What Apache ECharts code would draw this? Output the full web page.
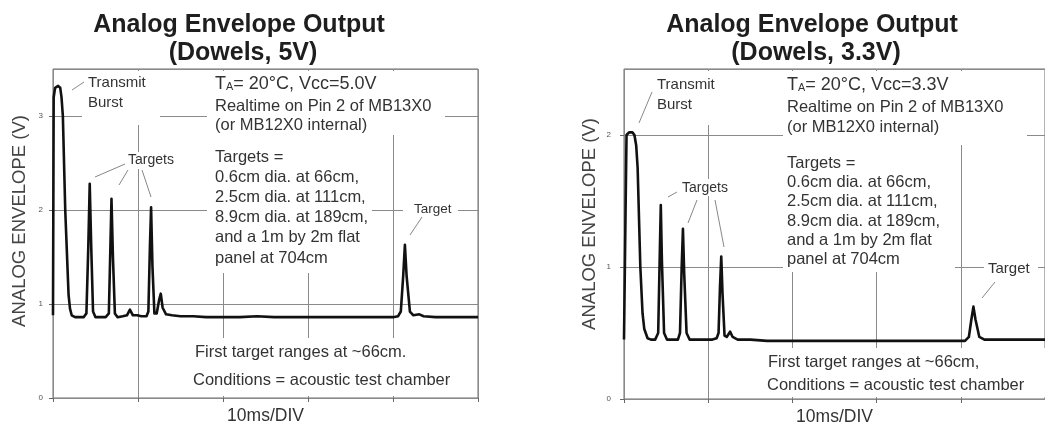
<!DOCTYPE html>
<html><head><meta charset="utf-8">
<script src="https://cdn.jsdelivr.net/npm/echarts@6/dist/echarts.min.js"></script>
<style>html,body{margin:0;padding:0;background:#fff}#c{width:1045px;height:432px}</style>
</head><body><div id="c"></div>
<script>
// ---- data (time in ms, envelope in volts), read from the scope captures ----
const timeMs5V = [0,0.08,0.25,0.6,0.85,1.0,1.16,1.44,1.83,2.0,2.2,2.6,3.0,3.6,3.93,4.15,4.32,4.5,4.71,5.0,5.6,6.2,6.57,6.75,6.88,7.05,7.28,7.6,8.2,8.7,9.05,9.4,9.9,10.4,11.0,11.22,11.4,11.54,11.7,11.93,12.2,12.5,12.68,12.9,13.3,14,15,16.5,18,20,22,24,26,28,30,32,34,36,38,40,40.6,40.92,41.2,41.4,41.6,41.99,42.4,43.1,43.6,45,47,50];
const envelope5V = [0.88,3.2,3.30,3.32,3.30,3.2,3.0,2.0,1.1,0.95,0.88,0.86,0.86,0.86,0.9,1.6,2.28,1.6,0.92,0.86,0.86,0.86,0.9,1.6,2.12,1.5,0.9,0.86,0.87,0.88,0.94,0.88,0.88,0.87,0.87,0.92,1.6,2.03,1.4,0.9,0.9,1.05,1.11,0.96,0.89,0.88,0.87,0.87,0.86,0.86,0.86,0.87,0.86,0.86,0.86,0.86,0.86,0.86,0.86,0.86,0.87,0.92,1.3,1.63,1.3,0.92,0.88,0.89,0.87,0.86,0.86,0.86];
const timeMs33V = [0,0.2,0.3,0.6,1.0,1.24,1.45,1.62,1.94,2.2,2.41,2.8,3.2,3.7,4.06,4.25,4.37,4.5,4.76,5.1,5.8,6.4,6.65,6.85,7.0,7.15,7.43,7.8,8.5,9.5,10.5,11.0,11.23,11.4,11.55,11.7,11.94,12.2,12.6,12.9,13.5,15,17,20,23,26,29,32,35,38,40.5,40.96,41.25,41.5,41.75,42.2,42.8,44,46,48,50];
const envelope33V = [0.45,1.5,2.0,2.02,2.02,2.0,1.92,1.75,1.0,0.65,0.53,0.46,0.45,0.45,0.5,1.1,1.47,1.05,0.5,0.45,0.45,0.45,0.5,1.0,1.29,0.95,0.5,0.45,0.45,0.45,0.45,0.46,0.5,0.85,1.08,0.8,0.48,0.47,0.51,0.47,0.45,0.45,0.44,0.44,0.44,0.44,0.44,0.44,0.44,0.44,0.44,0.47,0.6,0.7,0.6,0.47,0.45,0.45,0.45,0.45,0.45];
const yTicks5V = [0, 1, 2, 3];
const yTicks33V = [0, 1, 2];
const panelTitles = ['Analog Envelope Output', '(Dowels, 5V)', '(Dowels, 3.3V)'];
const yAxisTitle = 'ANALOG ENVELOPE (V)';
const xAxisTitle = '10ms/DIV';
const noteLines5V = ['T{s|A}= 20°C, Vcc=5.0V', 'Realtime on Pin 2 of MB13X0', '(or MB12X0 internal)'];
const noteLines33V = ['T{s|A}= 20°C, Vcc=3.3V', 'Realtime on Pin 2 of MB13X0', '(or MB12X0 internal)'];
const targetLines = ['Targets =', '0.6cm dia. at 66cm,', '2.5cm dia. at 111cm,', '8.9cm dia. at 189cm,', 'and a 1m by 2m flat', 'panel at 704cm'];
const footLines5V = ['First target ranges at ~66cm.', 'Conditions = acoustic test chamber'];
const footLines33V = ['First target ranges at ~66cm,', 'Conditions = acoustic test chamber'];

const F = '"Liberation Sans", Arial, sans-serif';
const pairs = (xs, ys) => xs.map((x, i) => [x, ys[i]]);

const chart = echarts.init(document.getElementById('c'), null, {renderer: 'canvas'});

function xAx(gi) {
  return {
    type: 'value', gridIndex: gi, min: 0, max: 50, interval: 10,
    axisLine: {show: false},
    axisTick: {show: true, length: 4, lineStyle: {color: '#666'}},
    axisLabel: {show: false},
    splitLine: {show: true, lineStyle: {color: '#8a8a8a', width: 1}},
    name: xAxisTitle, nameLocation: 'middle', nameGap: 9,
    nameTextStyle: {fontFamily: F, fontSize: 17.5, color: '#333'}
  };
}
function yAx(gi, max, ticks, margin) {
  return {
    type: 'value', gridIndex: gi, min: 0, max: max, interval: 1,
    axisLine: {show: false},
    axisTick: {show: true, length: 4, lineStyle: {color: '#666'}},
    axisLabel: {show: true, fontSize: 8, color: '#555', fontFamily: F, margin: margin, showMaxLabel: ticks.includes(max),
      formatter: v => ticks.includes(v) ? String(v) : ''},
    splitLine: {show: true, lineStyle: {color: '#8a8a8a', width: 1}}
  };
}

// annotation helpers (pixel layout of labels)
const G = [];
function mask(x, y, w, h) { G.push({type: 'rect', z: 90, silent: true, shape: {x, y, width: w, height: h}, style: {fill: '#fff'}}); }
function text(x, y, t, size, o) {
  o = o || {};
  G.push({type: 'text', z: 100, silent: true, x, y, rotation: o.rot || 0,
    style: {text: t, fontSize: size, fontFamily: F, fontWeight: o.bold ? 'bold' : 'normal', fill: o.color || '#333',
      align: o.align || 'left', verticalAlign: o.va || 'middle', lineHeight: o.lh,
      rich: {s: {fontSize: size * 0.6, fontFamily: F, fill: o.color || '#333', verticalAlign: 'bottom', lineHeight: size * 0.9}}}});
}
function lead(x1, y1, x2, y2) { G.push({type: 'line', z: 100, silent: true, shape: {x1, y1, x2, y2}, style: {stroke: '#888', lineWidth: 1}}); }

// titles
text(239, 25, panelTitles[0], 25, {bold: true, align: 'center', color: '#1e1e1e'});
text(243, 53.5, panelTitles[1], 25, {bold: true, align: 'center', color: '#1e1e1e'});
text(812, 25, panelTitles[0], 25, {bold: true, align: 'center', color: '#1e1e1e'});
text(816, 53.5, panelTitles[2], 25, {bold: true, align: 'center', color: '#1e1e1e'});
// y axis titles
text(20, 221, yAxisTitle, 18.5, {rot: Math.PI / 2, align: 'center', color: '#444'});
text(590, 224, yAxisTitle, 18.5, {rot: Math.PI / 2, align: 'center', color: '#444'});

// ---- left panel annotations ----
mask(82, 71, 78, 54);
text(88, 83, 'Transmit', 15); text(88, 103, 'Burst', 15);
lead(72, 90, 84, 82);
mask(207, 71, 238, 64);
text(215, 84, noteLines5V[0], 18);
text(215, 106, noteLines5V[1], 16.5);
text(215, 125, noteLines5V[2], 16.5);
mask(207, 135, 165, 138);
text(215, 147, targetLines.join('\n'), 16.5, {va: 'top', lh: 20.2});
mask(125, 152, 55, 17);
text(128, 160, 'Targets', 14);
lead(95, 177, 125, 164); lead(119, 185, 128, 170); lead(142, 170, 151, 197);
mask(403, 201, 55, 17);
text(414, 209, 'Target', 13.5);
lead(422, 217, 410, 235);
mask(188, 338, 282, 58);
text(195, 352, footLines5V[0], 16.5);
text(193, 380, footLines5V[1], 16.5);

// ---- right panel annotations ----
mask(652, 71, 73, 54);
text(657, 85, 'Transmit', 15); text(657, 105, 'Burst', 15);
lead(639, 123, 652, 92);
mask(783, 71, 244, 74);
text(787, 85, noteLines33V[0], 18);
text(787, 107, noteLines33V[1], 16.5);
text(787, 127, noteLines33V[2], 16.5);
mask(783, 145, 172, 127);
text(787, 153.5, targetLines.join('\n'), 16.5, {va: 'top', lh: 19.3});
mask(679, 179, 57, 17);
text(682, 188, 'Targets', 14);
lead(668, 197, 677, 192); lead(688, 223, 697, 200); lead(715, 200, 724, 247);
mask(984, 259, 54, 20);
text(988, 269, 'Target', 15);
lead(995, 282, 982, 298);
mask(762, 348, 283, 49);
text(768, 362, footLines33V[0], 16.5);
text(767, 385, footLines33V[1], 16.5);

chart.setOption({
  animation: false,
  backgroundColor: '#fff',
  grid: [
    {left: 53, top: 69, width: 425, height: 329, show: true, borderColor: '#6a6a6a', borderWidth: 1, backgroundColor: 'transparent'},
    {left: 624, top: 69, width: 425, height: 330, show: true, borderColor: '#6a6a6a', borderWidth: 1, backgroundColor: 'transparent'}
  ],
  xAxis: [xAx(0), xAx(1)],
  yAxis: [yAx(0, 3.5, yTicks5V, 10), yAx(1, 2.5, yTicks33V, 13)],
  series: [
    {type: 'line', xAxisIndex: 0, yAxisIndex: 0, data: pairs(timeMs5V, envelope5V), showSymbol: false, smooth: false,
      lineStyle: {color: '#111', width: 2.6, join: 'round'}, z: 5},
    {type: 'line', xAxisIndex: 1, yAxisIndex: 1, data: pairs(timeMs33V, envelope33V), showSymbol: false, smooth: false,
      lineStyle: {color: '#111', width: 2.6, join: 'round'}, z: 5}
  ],
  graphic: {elements: G}
});
</script>
</body></html>
